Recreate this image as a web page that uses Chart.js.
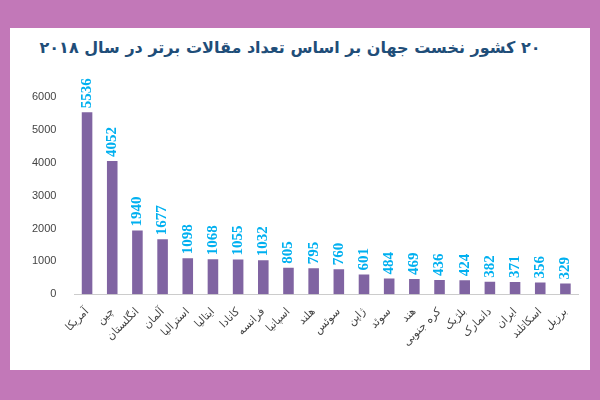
<!DOCTYPE html>
<html><head><meta charset="utf-8">
<script src="https://cdn.jsdelivr.net/npm/chart.js@4"></script>
<style>
body{margin:0;background:#c278b8;width:600px;height:400px;overflow:hidden}
#card{position:absolute;left:10px;top:28px;width:580px;height:342px;background:#fff}
#title{position:absolute;left:0;top:10px;width:560px;text-align:center;font:bold 16px "DejaVu Sans";color:#1f4e79;direction:rtl}
#wrap{position:absolute;left:0;top:30px;width:578px;height:312px}
</style></head><body>
<div id="card"><div id="title">۲۰ کشور نخست جهان بر اساس تعداد مقالات برتر در سال ۲۰۱۸</div>
<div id="wrap"><canvas id="c"></canvas></div></div>
<script>
const categories=["آمریکا","چین","انگلستان","آلمان","استرالیا","ایتالیا","کانادا","فرانسه","اسپانیا","هلند","سوئس","ژاپن","سوئد","هند","کره جنوبی","بلژیک","دانمارک","ایران","اسکاتلند","برزیل"];
const values=[5536,4052,1940,1677,1098,1068,1055,1032,805,795,760,601,484,469,436,424,382,371,356,329];
const labelPlugin={id:'lbl',afterDatasetsDraw(ch){const ctx=ch.ctx;const m=ch.getDatasetMeta(0);ctx.save();ctx.fillStyle='#00b0f0';ctx.font='bold 15px "Liberation Serif"';ctx.textAlign='left';ctx.textBaseline='middle';
m.data.forEach((b,i)=>{ctx.save();ctx.translate(b.x,b.y-4);ctx.rotate(-Math.PI/2);ctx.fillText(values[i],0,0);ctx.restore();});ctx.restore();}};
new Chart(document.getElementById('c'),{type:'bar',data:{labels:categories,datasets:[{data:values,backgroundColor:'#8064a2',barPercentage:0.42,categoryPercentage:1}]},
options:{responsive:true,maintainAspectRatio:false,animation:false,layout:{padding:{top:39,right:10,left:12,bottom:18}},plugins:{legend:{display:false},tooltip:{enabled:false}},
scales:{y:{min:0,max:6000,ticks:{stepSize:1000,padding:10,callback:v=>String(v),color:'#444',font:{size:11,family:'Liberation Sans'}},grid:{display:false},border:{display:false}},
x:{grid:{display:false},border:{color:'#ccc'},ticks:{minRotation:45,maxRotation:45,color:'#444',font:{size:11,family:'DejaVu Sans'}}}}},plugins:[labelPlugin]});
</script></body></html>
